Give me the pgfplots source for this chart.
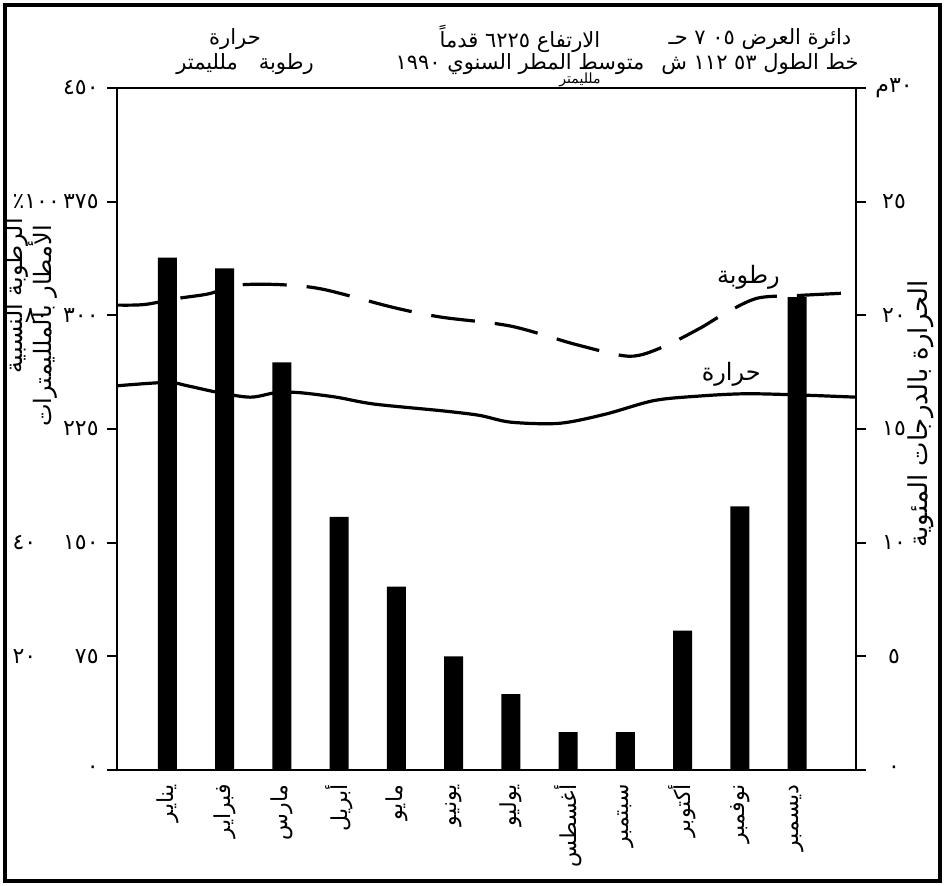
\documentclass[border=0pt]{standalone}
\usepackage{fontspec}
\usepackage{pgfplots}
\pgfplotsset{compat=1.18}
\setmainfont{DejaVu Sans}
\newfontfamily\arabicfont[Script=Arabic]{DejaVu Sans}
\TeXXeTstate=1
\newcommand\ar[1]{{\arabicfont\beginR #1\endR}}
% left tick label: humidity column on the left, rainfall column on the right
\newcommand\lt[2]{\makebox[43pt][l]{#1\hfill #2}}

\pgfplotsset{
  base/.style={
    scale only axis, width=369.5pt, height=341pt,
    at={(0,0)}, anchor=south west,
    xmin=0.12, xmax=13.03,
    axis line style={line width=1.2pt},
    tick style={line width=1pt, black},
    major tick length=5pt, tick align=outside,
    ticklabel style={font=\arabicfont\fontsize{11}{13}\selectfont},
  },
}

\begin{document}
\begin{tikzpicture}[x=1pt,y=1pt]
\useasboundingbox (-58.5,-58) rectangle (414,385);
\draw[line width=2.2pt] (-56,-55.5) rectangle (411.5,382.5);

% rainfall (mm), left scale
\begin{axis}[base,
  ymin=0, ymax=450, ytick={0,75,...,450}, ytick pos=left,
  yticklabels={\lt{}{٠}, \lt{٢٠}{٧٥}, \lt{٤٠}{١٥٠}, \lt{}{٢٢٥},
               \lt{\hspace{6pt}٨٠}{٣٠٠}, \lt{\hbox{٪}\hbox{١٠٠}}{٣٧٥}, \lt{}{٤٥٠}},
  yticklabel style={anchor=east, inner sep=0pt, xshift=-4pt},
  xtick={1,...,12}, xtick style={draw=none},
  xticklabels={يناير,فبراير,مارس,أبريل,مايو,يونيو,يوليو,أغسطس,سبتمبر,أكتوبر,نوفمبر,ديسمبر},
  xticklabel style={rotate=90, anchor=east, inner sep=2pt},
]
\addplot[ybar, bar width=9.5pt, fill=black, draw=none] coordinates {
  (1,338) (2,331) (3,269) (4,167) (5,121) (6,75)
  (7,50) (8,25) (9,25) (10,92) (11,174) (12,312)
};
\end{axis}

% temperature (degrees C), right scale
\begin{axis}[base,
  ymin=0, ymax=30, ytick={0,5,...,30},
  axis y line*=right, axis x line=none,
  yticklabels={٠,٥,١٠,١٥,٢٠,٢٥,{\hbox{م}\hbox{٣٠}}},
  yticklabel style={anchor=center, xshift=14pt},
]
\addplot[line width=1.6pt, smooth] coordinates {
  (0.12,16.9) (1,17.05) (1.35,16.9) (1.9,16.6) (2.45,16.4) (2.9,16.6)
  (3.3,16.6) (3.95,16.4) (4.6,16.1) (5.8,15.8) (6.45,15.6) (7,15.3)
  (7.85,15.25) (8.65,15.65) (9.5,16.25) (10.3,16.45) (11.1,16.55)
  (12,16.5) (13.03,16.4)
};
\node[font=\arabicfont\fontsize{12}{14}\selectfont] at (axis cs:10.85,17.4) {\ar{حرارة}};
\end{axis}

% relative humidity (%), 100% at the 375 mm line
\begin{axis}[base, ymin=0, ymax=120, hide axis]
\addplot[line width=1.6pt, smooth, dash pattern=on 22pt off 10pt] coordinates {
  (0.12,81.8) (0.6,81.9) (1.2,83.0) (1.73,83.8) (2.22,85.3) (2.96,85.4)
  (3.71,84.6) (4.94,81.4) (5.77,79.7) (7.0,78.1) (8.16,74.8) (9.07,72.8)
  (9.65,74.4) (10.3,77.7) (10.7,80.1) (11.3,83.0) (12.04,83.5) (13.03,84.0)
};
\node[font=\arabicfont\fontsize{12}{14}\selectfont] at (axis cs:11.15,86.6) {\ar{رطوبة}};
\end{axis}

% axis titles
\node[rotate=90, font=\arabicfont\fontsize{12}{14}\selectfont] at (-50.5,237) {\ar{الرطوبة النسبية}};
\node[rotate=90, font=\arabicfont\fontsize{12}{14}\selectfont] at (-37,222) {\ar{الأمطار بالملليمترات}};
\node[rotate=90, font=\arabicfont\fontsize{13}{15}\selectfont] at (402,178) {\ar{الحرارة بالدرجات المئوية}};

% header
\begin{scope}[every node/.style={font=\arabicfont\fontsize{10.5}{12}\selectfont, inner sep=0pt}]
\node at (59,365.5) {\ar{حرارة}};
\node at (64,353) {\ar{رطوبة\quad ملليمتر}};
\node at (201.5,365.5) {\ar{الارتفاع ٦٢٢٥ قدماً}};
\node at (201.5,353) {\ar{متوسط المطر السنوي ١٩٩٠}};
\node[font=\arabicfont\fontsize{7}{8}\selectfont] at (231.5,345) {\ar{ملليمتر}};
\node at (321.5,365.5) {\ar{دائرة العرض ٠٥ ٧ حـ}};
\node at (321.5,353) {\ar{خط الطول ٥٣ ١١٢ ش}};
\end{scope}
\end{tikzpicture}
\end{document}
